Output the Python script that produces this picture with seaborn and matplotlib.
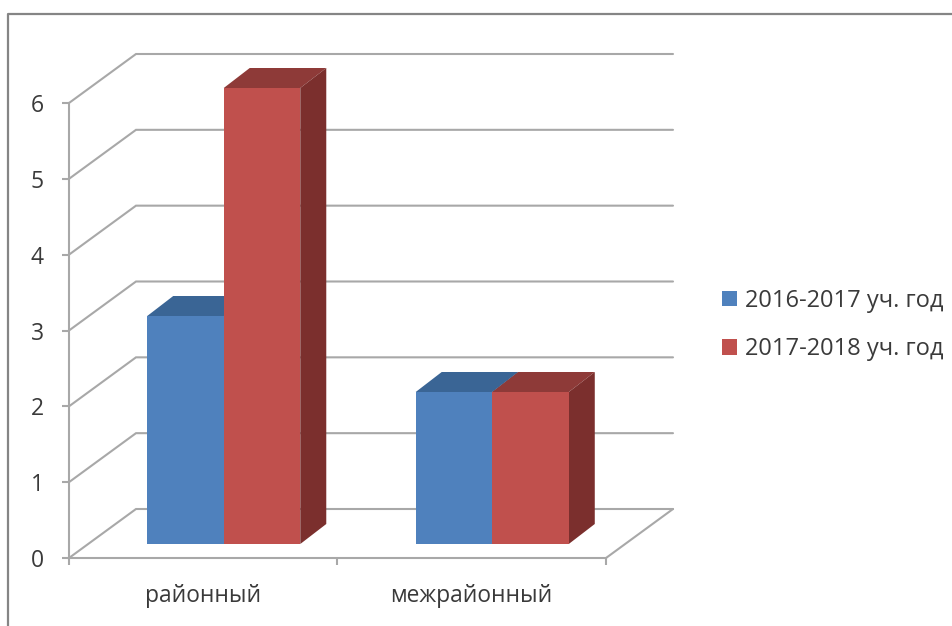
import matplotlib
matplotlib.use("Agg")
import matplotlib.pyplot as plt
from matplotlib.lines import Line2D
from matplotlib.patches import Polygon
import pandas as pd
import seaborn as sns

categories = ["районный", "межрайонный"]
series_names = ["2016-2017 уч. год", "2017-2018 уч. год"]
values_2016 = [3, 2]
values_2017 = [6, 2]
y_ticks = [0, 1, 2, 3, 4, 5, 6]

FRONT = ["#4F81BD", "#C0504D"]
TOP = ["#3A6595", "#8E3A38"]
SIDE = ["#2F5480", "#7B2F2D"]
GRID = "#A8A8A8"
TEXT = "#3A3A3A"
FONT = "Open Sans"

W, H = 953, 626
sns.set_theme(style="white")
plt.rcParams["font.family"] = [FONT, "DejaVu Sans"]
fig = plt.figure(figsize=(W / 100, H / 100), dpi=100, facecolor="white")


def box(x0, x1, y_top, y_bot):
    return [x0 / W, 1 - y_bot / H, (x1 - x0) / W, (y_bot - y_top) / H]


# screenshot border
fig.add_artist(Line2D([8 / W, 8 / W, 1], [0, 1 - 14 / H, 1 - 14 / H], color="#858585", lw=1.6))

# axis frame and the back wall
frame = fig.add_axes(box(69, 606, 103, 558), zorder=1)
frame.patch.set_visible(False)
frame.set_xlim(-0.5, 1.5)
frame.set_ylim(0, 6)
for s in ("top", "right"):
    frame.spines[s].set_visible(False)
for s in ("left", "bottom"):
    frame.spines[s].set_color(GRID)
    frame.spines[s].set_linewidth(1.5)
frame.set_yticks(y_ticks)
frame.set_xticks([-0.5, 0.5, 1.5])
frame.set_xticklabels([])
frame.set_xticks([0, 1], labels=categories, minor=True)
frame.tick_params(axis="y", which="major", left=True, length=5, width=1.5, color=GRID,
                  labelsize=16.5, labelcolor=TEXT, pad=13)
frame.tick_params(axis="x", which="major", bottom=True, length=5, width=1.5, color=GRID)
frame.tick_params(axis="x", which="minor", bottom=False, length=0, labelsize=16.4,
                  labelcolor=TEXT, pad=19)

wall_dx, wall_dy = 67 / 268.5, 49 / 75.83
for v in y_ticks:
    frame.plot([-0.5, -0.5 + wall_dx, 1.5 + wall_dx], [v, v + wall_dy, v + wall_dy],
               color=GRID, lw=1.5, clip_on=False, solid_joinstyle="miter")
frame.plot([1.5, 1.5 + wall_dx], [0, wall_dy], color=GRID, lw=1.5, clip_on=False)

# bars
df = pd.DataFrame({
    "category": categories * 2,
    "series": [series_names[0]] * 2 + [series_names[1]] * 2,
    "value": values_2016 + values_2017,
})
ax = fig.add_axes(box(69 + 20.5, 606 + 20.5, 88, 544), zorder=2)
ax.patch.set_visible(False)
sns.barplot(data=df, x="category", y="value", hue="series", order=categories,
            hue_order=series_names, palette=FRONT, width=0.57, gap=0, saturation=1,
            linewidth=0, ax=ax)
ax.set_xlim(-0.5, 1.5)
ax.set_ylim(0, 6)

bar_dx, bar_dy = 26 / 268.5, 20 / 76
for i, cont in enumerate(ax.containers):
    for p in cont.patches:
        p.set_zorder(3)
        x0, x1, h = p.get_x(), p.get_x() + p.get_width(), p.get_height()
        ax.add_patch(Polygon([(x0, h), (x0 + bar_dx, h + bar_dy), (x1 + bar_dx, h + bar_dy), (x1, h)],
                             closed=True, fc=TOP[i], ec="none", clip_on=False, zorder=1 + i))
        ax.add_patch(Polygon([(x1, 0), (x1 + bar_dx, bar_dy), (x1 + bar_dx, h + bar_dy), (x1, h)],
                             closed=True, fc=SIDE[i], ec="none", clip_on=False, zorder=1 + i))

handles, labels = ax.get_legend_handles_labels()
ax.get_legend().remove()
leg = fig.legend(handles, labels, loc="center left", bbox_to_anchor=(701 / W, 1 - 325 / H),
                 frameon=False, fontsize=17, labelcolor=TEXT, handlelength=0.64, handleheight=0.64,
                 handletextpad=0.34, labelspacing=1.04)
ax.axis("off")

fig.savefig("out.png", dpi=100, facecolor="white")
